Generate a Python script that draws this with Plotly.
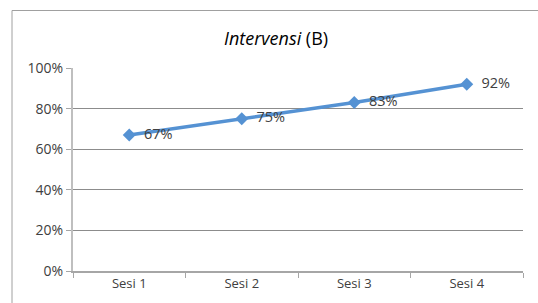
import plotly.graph_objects as go

categories = ["Sesi 1", "Sesi 2", "Sesi 3", "Sesi 4"]
values = [0.67, 0.75, 0.83, 0.92]
value_labels = ["67%", "75%", "83%", "92%"]
y_ticks = [0, 0.2, 0.4, 0.6, 0.8, 1.0]
y_tick_labels = ["0%", "20%", "40%", "60%", "80%", "100%"]

FONT = "Open Sans"
TXT = "#404040"

W, H = 538, 303
L, R, T, B = 73, 523, 68, 271  # plot area in window pixels
PW, PH = R - L, B - T

fig = go.Figure()
fig.add_trace(go.Scatter(
    x=categories, y=values,
    mode="lines+markers+text",
    line=dict(color="#5592D3", width=3.5),
    marker=dict(symbol="diamond", size=10, color="#5592D3"),
    text=["  " + t for t in value_labels],
    textposition="middle right",
    textfont=dict(family=FONT, size=14.5, color=TXT),
    cliponaxis=False,
    showlegend=False,
    hoverinfo="skip",
))

fig.update_layout(
    width=W, height=H,
    margin=dict(l=L, r=W - R, t=T, b=H - B),
    paper_bgcolor="white", plot_bgcolor="white",
    font=dict(family=FONT, size=14, color=TXT),
    xaxis=dict(
        type="category", tickson="boundaries",
        showgrid=False, showline=True, linecolor="#A6A6A6", linewidth=1.5,
        ticks="outside", ticklen=5, tickcolor="#A6A6A6", tickwidth=1,
        tickfont=dict(family=FONT, size=13, color=TXT),
        range=[-0.5, 3.5], fixedrange=True,
    ),
    yaxis=dict(
        range=[0, 1], tickvals=y_ticks, ticktext=y_tick_labels,
        showgrid=True, gridcolor="#8C8C8C", gridwidth=1,
        showline=True, linecolor="#BFBFBF", linewidth=2,
        ticks="outside", ticklen=5, tickcolor="#A6A6A6",
        tickfont=dict(family=FONT, size=14, color=TXT),
        zeroline=False, fixedrange=True,
    ),
    shapes=[dict(
        type="rect", xref="paper", yref="paper",
        x0=(12 - L) / PW, x1=(W + 20 - L) / PW,
        y0=(B - (H + 20)) / PH, y1=(B - 10.5) / PH,
        line=dict(color="#A0A0A0", width=1), fillcolor="rgba(0,0,0,0)",
        layer="below",
    )],
    annotations=[dict(
        text="<i>Intervensi</i> (B)", xref="paper", yref="paper",
        x=(276 - L) / PW, y=(B - 38) / PH, xanchor="center", yanchor="middle",
        showarrow=False, font=dict(family=FONT, size=18, color="#000000"),
    )],
)

fig.write_html(
    "out.html",
    config={"displayModeBar": False},
    post_script="document.body.style.margin='0';document.body.style.overflow='hidden';",
)
